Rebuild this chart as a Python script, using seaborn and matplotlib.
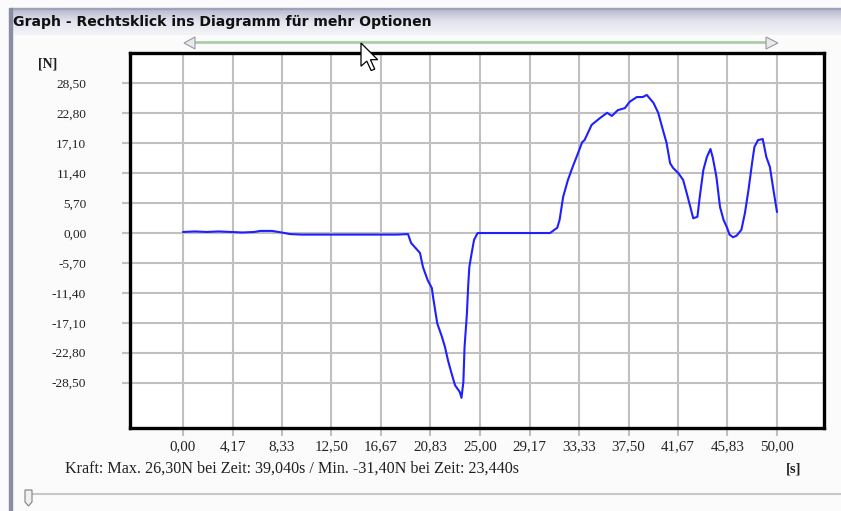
import numpy as np
import pandas as pd
import matplotlib
matplotlib.use("Agg")
import matplotlib.pyplot as plt
from matplotlib.patches import Polygon, Rectangle
import seaborn as sns

# ---------------- data ----------------
time_s = [0, 1, 2, 3, 4, 5, 6, 6.5, 7.5, 8.3, 9, 10, 12, 14, 16, 18, 18.94,
          19.2, 19.95, 20.2, 20.6, 20.95, 21.05, 21.4, 21.8, 22.05, 22.3, 22.6, 22.9,
          23.3, 23.44, 23.6, 23.7, 23.9, 24.0, 24.1, 24.3, 24.5, 24.8, 26, 28, 30, 30.9,
          31.5, 31.7, 32.0, 32.4, 32.8, 33.25, 33.6, 33.8, 34.4, 35.1, 35.7, 36.1, 36.6,
          37.2, 37.6, 38.2, 38.7, 39.04, 39.6, 40.0, 40.4, 40.7, 41.0, 41.25, 41.7, 42.1,
          42.4, 42.7, 42.95, 43.3, 43.5, 43.8, 44.1, 44.4, 44.6, 44.9, 45.2, 45.5, 45.8,
          46.0, 46.3, 46.6, 47.0, 47.3, 47.6, 47.9, 48.1, 48.4, 48.8, 49.1, 49.4, 49.7, 50.0]
force_n = [0.2, 0.3, 0.2, 0.3, 0.2, 0.1, 0.2, 0.4, 0.4, 0.1, -0.2, -0.3, -0.3, -0.3, -0.3, -0.3, -0.2,
           -1.9, -3.8, -6.5, -9.0, -10.5, -12.2, -17.2, -19.8, -21.7, -24.2, -26.7, -29.0,
           -30.3, -31.4, -28.4, -21.7, -15.3, -10.3, -6.5, -3.8, -1.3, 0.0, 0.0, 0.0, 0.0, 0.0,
           1.0, 2.5, 6.9, 10.1, 12.6, 15.2, 17.3, 17.7, 20.6, 21.9, 22.9, 22.3, 23.4,
           23.8, 25.0, 25.9, 25.9, 26.3, 24.8, 22.9, 19.6, 17.2, 13.3, 12.4, 11.4, 10.1,
           7.6, 5.0, 2.8, 3.1, 6.9, 12.0, 14.5, 16.0, 14.3, 10.7, 5.0, 2.5, 1.0,
           -0.3, -0.8, -0.5, 0.6, 3.8, 8.2, 13.3, 16.4, 17.7, 17.9, 14.5, 12.6, 8.2, 4.0]

x_tick_labels = ["0,00", "4,17", "8,33", "12,50", "16,67", "20,83", "25,00",
                 "29,17", "33,33", "37,50", "41,67", "45,83", "50,00"]
y_tick_labels = ["28,50", "22,80", "17,10", "11,40", "5,70", "0,00",
                 "-5,70", "-11,40", "-17,10", "-22,80", "-28,50"]

window_title = "Graph - Rechtsklick ins Diagramm für mehr Optionen"
info_text = "Kraft: Max. 26,30N bei Zeit: 39,040s / Min. -31,40N bei Zeit: 23,440s"
y_unit = "[N]"
x_unit = "[s]"

df = pd.DataFrame({"Zeit": time_s, "Kraft": force_n})

# ---------------- figure ----------------
W, H = 841, 511
sns.set_style("white")
fig = plt.figure(figsize=(W / 100, H / 100), dpi=100)
fig.patch.set_facecolor("#fbfbfb")

# decoration layer in pixel coords
bg = fig.add_axes([0, 0, 1, 1], zorder=0)
bg.set_xlim(0, W)
bg.set_ylim(H, 0)
bg.axis("off")

# title bar gradient
grad = np.linspace(0, 1, 64).reshape(-1, 1)
bg.imshow(grad, extent=[11, W, 35, 9], cmap=matplotlib.colors.LinearSegmentedColormap.from_list(
    "tb", ["#b8bad0", "#e4e5ee", "#f4f4f8"]), aspect="auto", zorder=1)
bg.add_patch(Rectangle((11, 8), W, 1.5, color="#a0a2b8", zorder=2))
# window left border
bg.add_patch(Rectangle((9, 8), 3, H, color="#8a8ca4", zorder=2))
bg.text(13, 22, window_title, fontsize=10.05, fontweight="bold", family="DejaVu Sans",
        color="#101010", va="center", ha="left", zorder=3)

# top slider
bg.plot([195, 766], [42, 42], color="#9fd39b", lw=2, zorder=2)
bg.plot([195, 766], [43.5, 43.5], color="#c8c8c8", lw=0.8, zorder=2)
bg.add_patch(Polygon([[184, 43], [195, 37], [195, 49]], closed=True, fc="#e8e8ee", ec="#9a9a9a", lw=0.8, zorder=3))
bg.add_patch(Polygon([[778, 43], [766, 37], [766, 49]], closed=True, fc="#e8e8ee", ec="#9a9a9a", lw=0.8, zorder=3))

# bottom slider
bg.plot([30, W], [494, 494], color="#c8c8c8", lw=1.5, zorder=2)
bg.add_patch(Polygon([[25, 490], [32, 490], [32, 502], [28.5, 506], [25, 502]], closed=True,
                     fc="#f0f0f0", ec="#808080", lw=0.8, zorder=3))

# main axes
left, right, top, bottom = 130, 824, 53, 428
ax = fig.add_axes([left / W, (H - bottom) / H, (right - left) / W, (bottom - top) / H], zorder=1)
ax.set_facecolor("white")

sns.lineplot(data=df, x="Zeit", y="Kraft", ax=ax, color="#1f1fff", lw=1.5, zorder=3)

xt = [float(s.replace(",", ".")) for s in x_tick_labels]
yt = [float(s.replace(",", ".")) for s in y_tick_labels]
ax.set_xticks(xt)
ax.set_xticklabels(x_tick_labels)
ax.set_yticks(yt)
ax.set_yticklabels(y_tick_labels)

ax.set_xlim(-4.461, 53.956)
ax.set_ylim(-37.14, 34.29)
ax.grid(True, color="#c0c0c0", lw=1.5)
ax.set_axisbelow(True)
ax.set_xlabel("")
ax.set_ylabel("")

for sp in ax.spines.values():
    sp.set_visible(True)
    sp.set_color("black")
    sp.set_linewidth(2.4)

ax.tick_params(axis="both", which="both", color="#c0c0c0", width=1.5, length=5.5,
               labelcolor="#222222", bottom=True, left=True)
ax.tick_params(axis="y", pad=26, labelsize=9.6)
ax.tick_params(axis="x", pad=3, labelsize=10.8)
for lab in ax.get_xticklabels() + ax.get_yticklabels():
    lab.set_family("Liberation Serif")

# overlay for the mouse cursor
ov = fig.add_axes([0, 0, 1, 1], zorder=5)
ov.set_xlim(0, W)
ov.set_ylim(H, 0)
ov.axis("off")
ov.patch.set_alpha(0)
cur = np.array([[0, 0], [0, 16], [4, 12.5], [7, 19], [9.5, 18], [6.5, 11.5], [11.5, 11.5]]) * 1.45
cur[:, 0] += 361
cur[:, 1] += 43
ov.add_patch(Polygon(cur, closed=True, fc="white", ec="black", lw=0.9, zorder=6))

# unit labels and info text
bg.text(38, 64, y_unit, fontsize=10, fontweight="bold", family="Liberation Serif",
        color="#202020", va="center", ha="left", zorder=3)
bg.text(801, 469, x_unit, fontsize=10.5, fontweight="bold", family="Liberation Serif",
        color="#202020", va="center", ha="right", zorder=3)
bg.text(65, 469, info_text, fontsize=11.6, family="Liberation Serif",
        color="#202020", va="center", ha="left", zorder=3)

fig.savefig("out.png", dpi=100, facecolor=fig.get_facecolor())
